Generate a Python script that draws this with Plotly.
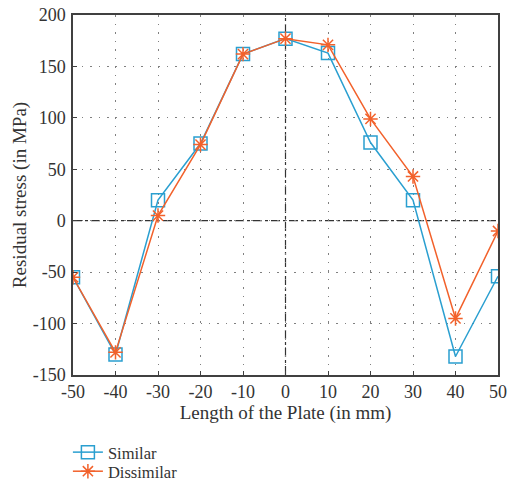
import plotly.graph_objects as go

x_mm = [-50, -40, -30, -20, -10, 0, 10, 20, 30, 40, 50]
similar = [-55, -130, 20, 75, 162, 177, 163, 76, 20, -132, -54]
dissimilar = [-55, -128, 5, 74, 162, 177, 171, 99, 43, -95, -10]

x_ticks = [-50, -40, -30, -20, -10, 0, 10, 20, 30, 40, 50]
y_ticks = [-150, -100, -50, 0, 50, 100, 150, 200]

blue = "#2a9fd0"
orange = "#f2612b"
font = "Liberation Serif"

fig = go.Figure()
fig.add_trace(go.Scatter(
    x=x_mm, y=similar, name="Similar", mode="lines+markers", legend="legend",
    line=dict(color=blue, width=1.5),
    marker=dict(symbol="square-open", size=13, color=blue, line=dict(width=1.5)),
))
fig.add_trace(go.Scatter(
    x=x_mm, y=dissimilar, name="Dissimilar", mode="lines+markers", legend="legend2",
    line=dict(color=orange, width=1.5),
    marker=dict(symbol="asterisk-open", size=12, color=orange, line=dict(width=1.5, color=orange)),
))

# dash-dot reference lines at zero
fig.add_shape(type="line", xref="x", yref="paper", x0=0, x1=0, y0=0, y1=1,
              line=dict(color="#333333", width=1.2, dash="dashdot"), layer="below")
fig.add_shape(type="line", xref="paper", yref="y", x0=0, x1=1, y0=0, y1=0,
              line=dict(color="#333333", width=1.2, dash="dashdot"), layer="below")

axis_common = dict(
    showline=True, mirror=True, linecolor="#404040", linewidth=1.5,
    showgrid=True, gridcolor="#808080", griddash="1.5px,7px", gridwidth=1.2,
    zeroline=False, ticks="inside", ticklen=4, tickcolor="#404040",
    tickfont=dict(family=font, size=18, color="#333333"),
    automargin=False,
)

legend_common = dict(xanchor="left", yanchor="middle", orientation="v",
                     font=dict(family=font, size=16.5, color="#333333"),
                     itemwidth=30, bgcolor="rgba(0,0,0,0)")

fig.update_layout(
    width=507, height=484,
    margin=dict(l=73, r=9, t=15, b=109, autoexpand=False),
    paper_bgcolor="white", plot_bgcolor="white",
    font=dict(family=font, color="#333333"),
    xaxis=dict(range=[-50, 50], tickvals=x_ticks, ticktext=[str(v) for v in x_ticks],
               ticklabelstandoff=0,
               title=dict(text="Length of the Plate (in mm)", font=dict(family=font, size=19), standoff=3),
               **axis_common),
    yaxis=dict(range=[-150, 200], tickvals=y_ticks, ticktext=[str(v) for v in y_ticks],
               ticklabelstandoff=2,
               title=dict(text="Residual stress (in MPa)", font=dict(family=font, size=19), standoff=1),
               **axis_common),
    legend=dict(x=-0.012, y=-0.215, **legend_common),
    legend2=dict(x=-0.012, y=-0.268, **legend_common),
    showlegend=True,
)

fig.write_html("out.html", config={"displayModeBar": False},
               post_script="document.body.style.margin='0';")
